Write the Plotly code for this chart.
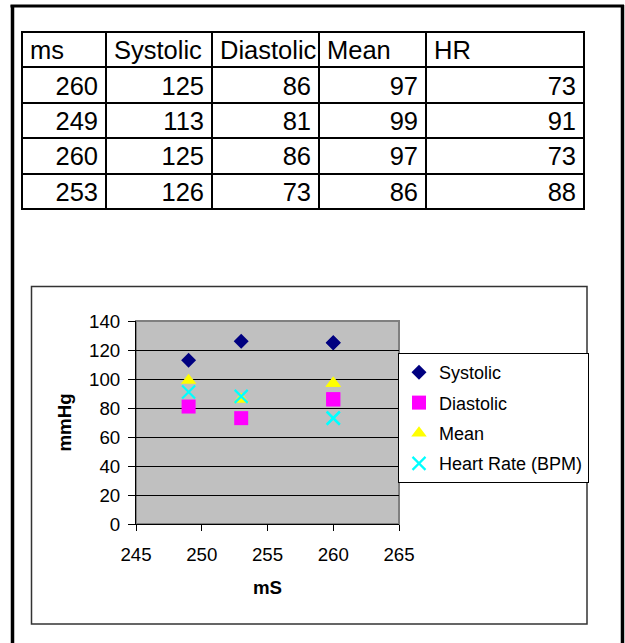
import plotly.graph_objects as go

# ---- data ----
header = ["ms", "Systolic", "Diastolic", "Mean", "HR"]
ms = [260, 249, 260, 253]
systolic = [125, 113, 125, 126]
diastolic = [86, 81, 86, 73]
mean = [97, 99, 97, 86]
hr = [73, 91, 73, 88]

y_ticks = [0, 20, 40, 60, 80, 100, 120, 140]
x_ticks = [245, 250, 255, 260, 265]

W, H = 625, 643
FONT = "Liberation Sans, Arial, sans-serif"


def px(x):
    return x / W


def py(y):
    return 1 - y / H


fig = go.Figure()

fig.add_trace(go.Table(
    domain=dict(x=[px(22), px(584)], y=[py(222), py(32)]),
    columnwidth=[84, 106, 107, 107, 158],
    header=dict(values=header, align="left", height=35.4,
                line=dict(color="black", width=2), fill=dict(color="white"),
                font=dict(family=FONT, size=25.5, color="black")),
    cells=dict(values=[ms, systolic, diastolic, mean, hr], align="right", height=35.4,
               line=dict(color="black", width=2), fill=dict(color="white"),
               font=dict(family=FONT, size=25.5, color="black")),
))

series = [
    ("Systolic", systolic, "diamond", 11.5, "#000080"),
    ("Diastolic", diastolic, "square", 14, "#FF00FF"),
    ("Mean", mean, "triangle-up", 13.5, "#FFFF00"),
    ("Heart Rate (BPM)", hr, "x-thin", 13, "#00FFFF"),
]
for name, vals, sym, size, col in series:
    if sym == "x-thin":
        marker = dict(symbol=sym, size=size, line=dict(color=col, width=2.2), color=col)
    else:
        marker = dict(symbol=sym, size=size, color=col, line=dict(width=0))
    fig.add_trace(go.Scatter(x=ms, y=vals, mode="markers", name=name,
                             marker=marker, legendgroup=name,
                             xaxis="x", yaxis="y"))

fig.update_layout(
    width=W, height=H, autosize=False,
    margin=dict(l=0, r=0, t=0, b=0, pad=0, autoexpand=False),
    paper_bgcolor="white", plot_bgcolor="#C0C0C0",
    font=dict(family=FONT, size=18, color="black"),
    showlegend=True,
    legend=dict(x=px(398), y=py(353), xanchor="left", yanchor="top",
                bgcolor="white", bordercolor="black", borderwidth=1,
                font=dict(family=FONT, size=18, color="black"),
                traceorder="grouped", tracegroupgap=4,
                itemwidth=30),
    xaxis=dict(domain=[px(136), px(399)], range=[245, 265], tickvals=x_ticks,
               showgrid=False, zeroline=False, ticks="outside", ticklen=6,
               tickcolor="black", showline=True, linecolor="black", linewidth=1,
               tickfont=dict(size=18.7), ticklabelstandoff=8,
               title=dict(text="<b>mS</b>", font=dict(size=18.7), standoff=16),
               anchor="y", fixedrange=True, automargin=False),
    yaxis=dict(domain=[py(524), py(321)], range=[0, 140], tickvals=y_ticks,
               showgrid=True, gridcolor="black", gridwidth=1, zeroline=False,
               ticks="outside", ticklen=7, tickcolor="black", showline=True,
               linecolor="black", linewidth=1, tickfont=dict(size=18.7),
               ticklabelstandoff=4,
               title=dict(text="<b>mmHg</b>", font=dict(size=18.7), standoff=12),
               anchor="x", fixedrange=True, automargin=False),
    shapes=[
        # outer page border (top, left, right)
        dict(type="line", xref="paper", yref="paper", x0=px(10.5), x1=px(624), y0=py(6), y1=py(6),
             line=dict(color="black", width=3)),
        dict(type="line", xref="paper", yref="paper", x0=px(12.5), x1=px(12.5), y0=0, y1=py(5),
             line=dict(color="black", width=3.5)),
        dict(type="line", xref="paper", yref="paper", x0=px(622.5), x1=px(622.5), y0=0, y1=py(5),
             line=dict(color="black", width=3.5)),
        # chart area frame
        dict(type="rect", xref="paper", yref="paper", x0=px(31.5), x1=px(587), y0=py(624), y1=py(286.5),
             line=dict(color="#333333", width=1.5)),
        # plot area border
        dict(type="rect", xref="x domain", yref="y domain", x0=0, x1=1, y0=0, y1=1,
             line=dict(color="#808080", width=2), layer="below"),
    ],
)

fig.write_html(
    "out.html",
    config={"displayModeBar": False},
    post_script="document.body.style.margin='0px';document.body.style.overflow='hidden';",
)
